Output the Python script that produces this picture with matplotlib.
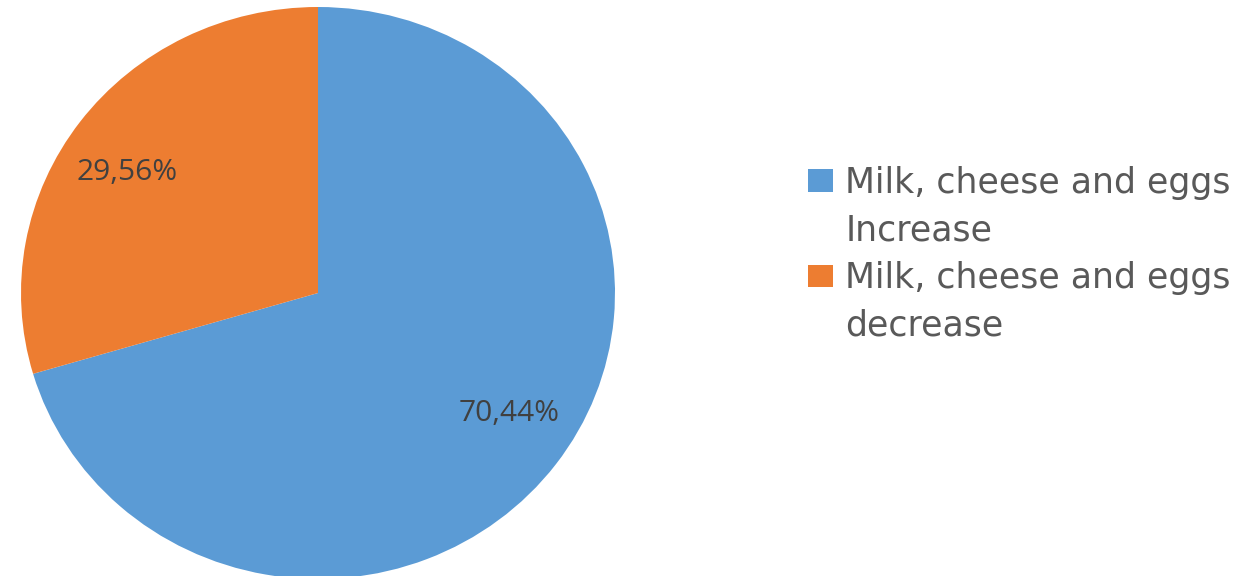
import matplotlib
matplotlib.use('Agg')
import numpy as np
import matplotlib.pyplot as plt
from matplotlib.patches import Patch

# data
categories = ['Milk, cheese and eggs Increase', 'Milk, cheese and eggs decrease']
legend_lines = [['Milk, cheese and eggs', 'Increase'], ['Milk, cheese and eggs', 'decrease']]
values = [70.44, 29.56]
colors = ['#5B9BD5', '#ED7D31']

plt.rcParams['font.family'] = ['Open Sans', 'DejaVu Sans']

fig = plt.figure(figsize=(12.55, 5.76), dpi=100)
# pie centre ~ (318, 293) px, radii ~ 297 x 286 px (slightly squashed in the source)
W, H = 1255, 576
cx, cy, rx, ry = 318, 293, 297, 286
ax = fig.add_axes([(cx - rx) / W, (H - cy - ry) / H, 2 * rx / W, 2 * ry / H])

def fmt(p):
    return f'{p:.2f}'.replace('.', ',') + '%'

wedges, texts, autotexts = ax.pie(values, colors=colors, startangle=90, counterclock=False,
                                  autopct=fmt, pctdistance=0.77, radius=1,
                                  wedgeprops=dict(linewidth=0),
                                  textprops=dict(color='#404040', fontsize=21.5))
# labels sit a little counter-clockwise of the wedge middle
for w, t in zip(wedges, autotexts):
    ang = np.deg2rad((w.theta1 + w.theta2) / 2 + 3.5)
    t.set_position((0.77 * np.cos(ang), 0.77 * np.sin(ang)))
ax.set_xlim(-1, 1)
ax.set_ylim(-1, 1)
ax.set_aspect('auto')

# legend: square only next to the first line of each wrapped label
handles, names = [], []
for col, lines in zip(colors, legend_lines):
    for i, line in enumerate(lines):
        handles.append(Patch(facecolor=col if i == 0 else 'none', edgecolor='none'))
        names.append(line)

leg = fig.legend(handles, names, loc='upper left', bbox_to_anchor=(808 / W, 1 - 166 / H),
                 frameon=False, prop=dict(family='DejaVu Sans', size=25), labelcolor='#595959',
                 handlelength=0.72, handleheight=0.63, handletextpad=0.35,
                 labelspacing=0.39, borderpad=0, borderaxespad=0)

fig.savefig('out.png', dpi=100)
